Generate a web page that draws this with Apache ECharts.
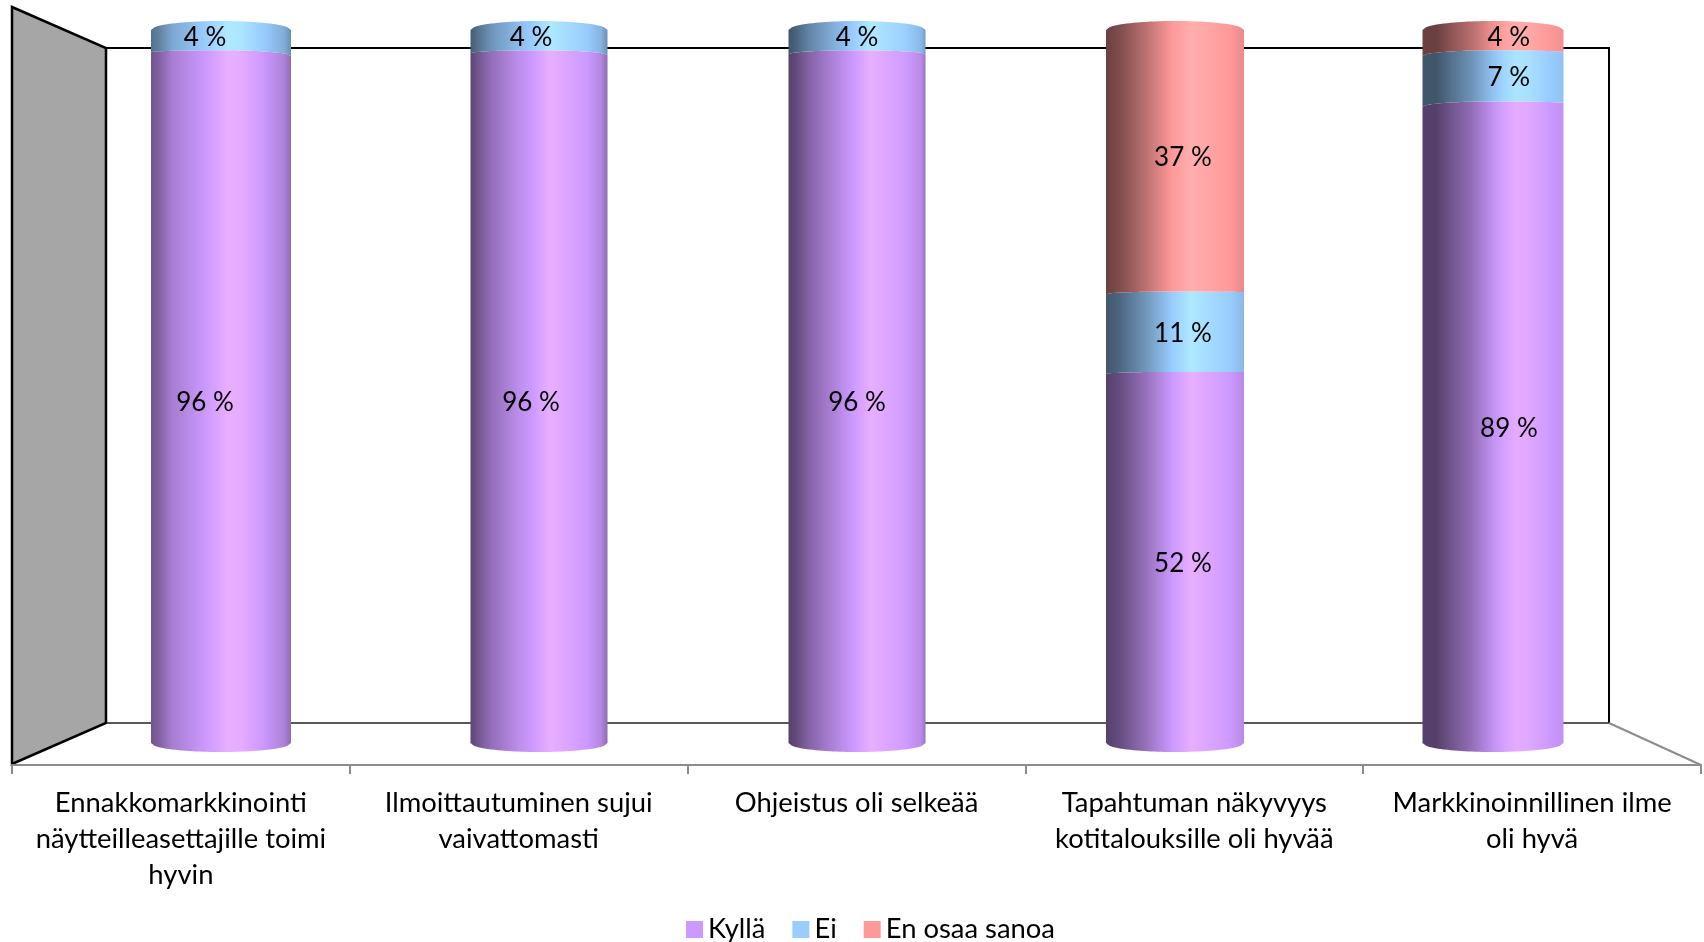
<!DOCTYPE html>
<html>
<head>
<meta charset="utf-8">
<style>html,body{margin:0;padding:0;background:#fff}#c{width:1704px;height:942px}</style>
<script src="https://cdn.jsdelivr.net/npm/echarts@6/dist/echarts.min.js"></script>
</head>
<body>
<div id="c"></div>
<script>
const categories = [
  'Ennakkomarkkinointi\nnäytteilleasettajille toimi\nhyvin',
  'Ilmoittautuminen sujui\nvaivattomasti',
  'Ohjeistus oli selkeää',
  'Tapahtuman näkyvyys\nkotitalouksille oli hyvää',
  'Markkinoinnillinen ilme\noli hyvä'
];
const kylla = [96, 96, 96, 52, 89];
const ei = [4, 4, 4, 11, 7];
const enOsaa = [0, 0, 0, 37, 4];

const FONT = 'Lato, Carlito, "Open Sans", sans-serif';
const AXIS_SIZE = 27.4;
const VALUE_SIZE = 26;
const widths = [140, 137, 137, 138, 141];
const labelSpread = 1.025;
const midX = 857;

// light profile of every cylinder: [position, brightness]
const shades = [
  [[0,.55],[.05,.62],[.15,.82],[.35,.97],[.45,1.05],[.55,1.14],[.65,1.12],[.8,1],[.95,.85],[1,.7]],
  [[0,.45],[.05,.55],[.15,.72],[.35,.92],[.45,1],[.58,1.14],[.66,1.1],[.85,1],[.95,.88],[1,.7]],
  [[0,.42],[.05,.48],[.15,.65],[.3,.82],[.47,1],[.6,1.14],[.68,1.1],[.85,1.02],[.97,.9],[1,.75]],
  [[0,.42],[.1,.5],[.3,.75],[.48,1],[.62,1.14],[.7,1.1],[.9,1],[1,.9]],
  [[0,.42],[.1,.42],[.2,.55],[.35,.72],[.5,.95],[.58,1.05],[.66,1.12],[.75,1.1],[.9,1],[1,.95]]
];
const bases = { 'Kyllä': [204,153,255], 'Ei': [153,204,255], 'En osaa sanoa': [255,153,153] };

function shadeColor(rgb, b) {
  return 'rgb(' + rgb.map(v => Math.round(Math.min(255, v * b))).join(',') + ')';
}
function edge(cx, w, yc, dropL, dropR, steps) {
  const pts = [];
  for (let i = 0; i <= steps; i++) {
    const t = -1 + 2 * i / steps;
    const e = 1 - Math.sqrt(1 - t * t);
    const d = t < 0 ? dropL : dropR;
    pts.push([cx + t * w / 2, yc + d * e]);
  }
  return pts;
}
function drops(v, i) {
  if (v >= 100) return [9, 9];
  if (v <= 0) return [-9, -9];
  const b = Math.max(0, 1 + 3 * (v - 50) / 46);
  const tilt = (2 - i) * 1;
  return [b - tilt, b + tilt];
}
function makeRender(name) {
  return function (params, api) {
    const i = api.value(0), lo = api.value(1), hi = api.value(2);
    const cx = api.coord([i, 0])[0];
    const yLo = api.coord([i, lo])[1], yHi = api.coord([i, hi])[1];
    const w = widths[i];
    const dl = drops(lo, i), dh = drops(hi, i);
    const bottom = edge(cx, w, yLo, dl[0], dl[1], 40);
    const top = edge(cx, w, yHi, dh[0], dh[1], 40).reverse();
    const stops = shades[i].map(s => ({ offset: s[0], color: shadeColor(bases[name], s[1]) }));
    return {
      type: 'group',
      children: [
        {
          type: 'polygon',
          shape: { points: bottom.concat(top) },
          style: { fill: new echarts.graphic.LinearGradient(0, 0, 1, 0, stops) }
        },
        {
          type: 'text',
          z2: 10,
          style: {
            text: (hi - lo) + ' %',
            x: midX + (cx - midX) * labelSpread,
            y: (yLo + yHi) / 2 + 1.5,
            align: 'center',
            verticalAlign: 'middle',
            fontFamily: FONT,
            fontSize: VALUE_SIZE,
            fill: '#000'
          }
        }
      ]
    };
  };
}
function stacked(own, below) {
  return own.map((v, i) => {
    const lo = below.reduce((s, arr) => s + arr[i], 0);
    return [i, lo, lo + v];
  }).filter(r => r[2] > r[1]);
}
const seriesDefs = [
  ['Kyllä', kylla, []],
  ['Ei', ei, [kylla]],
  ['En osaa sanoa', enOsaa, [kylla, ei]]
];

const chart = echarts.init(document.getElementById('c'), null, { renderer: 'canvas' });
chart.setOption({
  animation: false,
  backgroundColor: '#fff',
  legend: {
    left: 686, top: 916, padding: 0,
    itemWidth: 17, itemHeight: 17, itemGap: 27, icon: 'rect',
    selectedMode: false,
    textStyle: { fontFamily: FONT, fontSize: AXIS_SIZE, color: '#000' },
    data: seriesDefs.map(d => ({ name: d[0], itemStyle: { color: shadeColor(bases[d[0]], 1) } }))
  },
  grid: [
    { left: 12, width: 1689, top: 21, height: 744 },
    { left: 62, width: 1590, top: 21, height: 731 }
  ],
  xAxis: [
    {
      type: 'category', gridIndex: 0, data: categories,
      axisLine: { lineStyle: { color: '#8c8c8c', width: 2 } },
      axisTick: { show: true, length: 9, lineStyle: { color: '#8c8c8c', width: 2 } },
      axisLabel: { interval: 0, margin: 20, fontFamily: FONT, fontSize: AXIS_SIZE, lineHeight: 36, color: '#000' }
    },
    { type: 'category', gridIndex: 1, data: categories, show: false }
  ],
  yAxis: [
    { type: 'value', gridIndex: 0, min: 0, max: 100, show: false },
    { type: 'value', gridIndex: 1, min: 0, max: 100, show: false }
  ],
  graphic: [
    { type: 'polygon', z: 0, shape: { points: [[12,7],[106,48],[106,723],[12,764]] },
      style: { fill: '#a6a6a6', stroke: '#000', lineWidth: 2.5 } },
    { type: 'polyline', z: 0, shape: { points: [[106,48],[1609,48],[1609,723]] },
      style: { fill: 'none', stroke: '#000', lineWidth: 2 } },
    { type: 'line', z: 0, shape: { x1: 106, y1: 723, x2: 1609, y2: 723 },
      style: { stroke: '#222', lineWidth: 1.5 } },
    { type: 'line', z: 0, shape: { x1: 1609, y1: 723, x2: 1701, y2: 765 },
      style: { stroke: '#8c8c8c', lineWidth: 2 } }
  ],
  series: seriesDefs.map(d => ({
    name: d[0],
    type: 'custom',
    xAxisIndex: 1,
    yAxisIndex: 1,
    itemStyle: { color: shadeColor(bases[d[0]], 1) },
    encode: { x: 0, y: [1, 2] },
    data: stacked(d[1], d[2]),
    renderItem: makeRender(d[0])
  }))
});
</script>
</body>
</html>
